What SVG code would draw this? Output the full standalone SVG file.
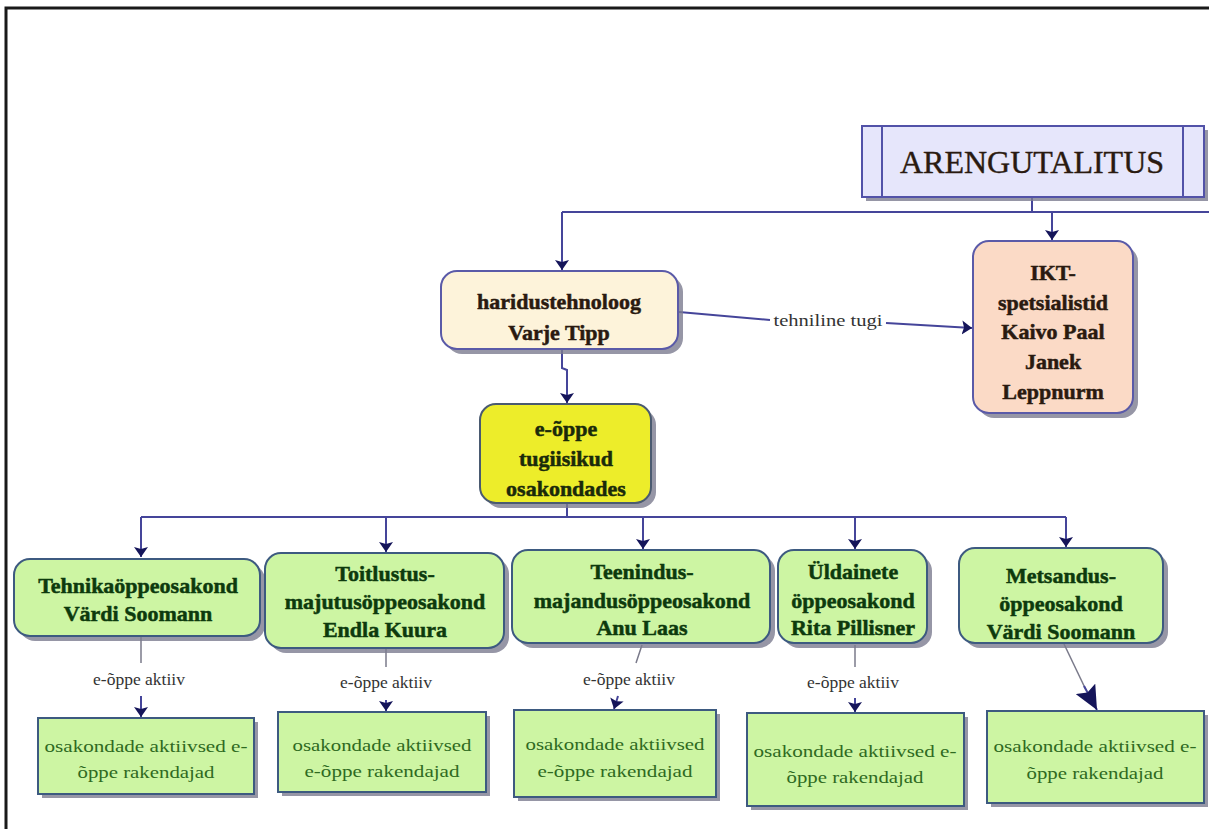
<svg xmlns="http://www.w3.org/2000/svg" width="1209" height="829" viewBox="0 0 1209 829" font-family="Liberation Serif, Times New Roman, DejaVu Serif, serif">
<defs>
<marker id="arr" viewBox="0 0 10 16" refX="10" refY="8" markerWidth="10" markerHeight="16" markerUnits="userSpaceOnUse" orient="auto">
<path d="M0,1 L10,8 L0,15 L2,8 Z" fill="#15155a"/>
</marker>
<marker id="arrBig" viewBox="0 0 24 22" refX="24" refY="11" markerWidth="24" markerHeight="22" markerUnits="userSpaceOnUse" orient="auto">
<path d="M0,0 L24,11 L0,22 L4,11 Z" fill="#15155a"/>
</marker>
</defs>
<style>
text{font-family:"Liberation Serif","Times New Roman","DejaVu Serif",serif}
.t{text-anchor:middle}
.b{font-weight:bold;font-size:22px;stroke-width:0.5}
.dk{fill:#2a1a10;stroke:#2a1a10}
.gr{fill:#0d3a0d;stroke:#0d3a0d}
.lt{font-size:17px;fill:#2f6a1f}
.lab{font-size:17.5px;fill:#333}
.sh{fill:#7c7c90;opacity:0.8}
.conn{stroke:#45459a;stroke-width:2;fill:none}
.gconn{stroke:#7a7a8a;stroke-width:1.5;fill:none}
.green{fill:#cdf5a3;stroke:#3d5a80;stroke-width:2}
</style>
<rect width="1209" height="829" fill="#ffffff"/>
<path d="M6,829 L6,8 L1209,8" fill="none" stroke="#1a1a1a" stroke-width="3"/>

<g id="connectors">
<path class="conn" d="M1032,197 L1032,212"/>
<path class="conn" d="M562,212 L1209,212"/>
<path class="conn" d="M562,212 L562,270" marker-end="url(#arr)"/>
<path class="conn" d="M1052,212 L1052,240" marker-end="url(#arr)"/>
<path class="conn" d="M679,312 L770,320"/>
<path class="conn" d="M886,323 L972,328" marker-end="url(#arr)"/>
<text class="t lab" x="828" y="326" font-size="17" textLength="109" lengthAdjust="spacingAndGlyphs">tehniline tugi</text>
<path class="conn" d="M562,349 L562,368 L567,370 L567,403" marker-end="url(#arr)"/>
<path class="conn" d="M567,503 L567,517"/>
<path class="conn" d="M141,517 L1066,517"/>
<path class="conn" d="M141,517 L141,557" marker-end="url(#arr)"/>
<path class="conn" d="M386,517 L386,552" marker-end="url(#arr)"/>
<path class="conn" d="M643,517 L643,549" marker-end="url(#arr)"/>
<path class="conn" d="M855,517 L855,549" marker-end="url(#arr)"/>
<path class="conn" d="M1066,517 L1066,547" marker-end="url(#arr)"/>
<path class="gconn" d="M141,637 L141,663"/>
<text class="t lab" x="139" y="685">e-õppe aktiiv</text>
<path class="conn" d="M141,696 L141,717" marker-end="url(#arr)"/>
<path class="gconn" d="M386,649 L386,667"/>
<text class="t lab" x="386" y="688">e-õppe aktiiv</text>
<path class="conn" d="M386,700 L386,711" marker-end="url(#arr)"/>
<path class="gconn" d="M642,645 L636,663"/>
<text class="t lab" x="629" y="685">e-õppe aktiiv</text>
<path class="conn" d="M618,696 L614,709" marker-end="url(#arr)"/>
<path class="gconn" d="M855,645 L855,667"/>
<text class="t lab" x="853" y="688">e-õppe aktiiv</text>
<path class="conn" d="M855,698 L855,712" marker-end="url(#arr)"/>
<path class="gconn" d="M1064,644 L1086,690"/>
<path class="conn" d="M1084,686 L1097,710" marker-end="url(#arrBig)"/>
</g>

<g id="arengutalitus">
<rect class="sh" x="866" y="130" width="342" height="71"/>
<rect x="862" y="126" width="342" height="71" fill="#e6e6fb" stroke="#5252a8" stroke-width="2"/>
<line x1="882" y1="126" x2="882" y2="197" stroke="#5252a8" stroke-width="2"/>
<line x1="1183" y1="126" x2="1183" y2="197" stroke="#5252a8" stroke-width="2"/>
<text class="t dk" x="1032" y="173" font-size="32" stroke-width="0.4">ARENGUTALITUS</text>
</g>

<g id="haridustehnoloog">
<rect class="sh" x="446" y="276" width="237" height="78" rx="16"/>
<rect x="441" y="271" width="237" height="78" rx="16" fill="#fdf3da" stroke="#5a5aa8" stroke-width="2"/>
<text class="t b dk" x="559" y="309" font-size="24">haridustehnoloog</text>
<text class="t b dk" x="559" y="340" font-size="24">Varje Tipp</text>
</g>

<g id="ikt">
<rect class="sh" x="978" y="246" width="160" height="172" rx="16"/>
<rect x="973" y="241" width="160" height="172" rx="16" fill="#fbdac6" stroke="#5a5aa8" stroke-width="2"/>
<text class="t b dk" x="1053" y="280" font-size="24">IKT-</text>
<text class="t b dk" x="1053" y="310" font-size="24">spetsialistid</text>
<text class="t b dk" x="1053" y="339" font-size="24">Kaivo Paal</text>
<text class="t b dk" x="1053" y="369" font-size="24">Janek</text>
<text class="t b dk" x="1053" y="399" font-size="24">Leppnurm</text>
</g>

<g id="eoppe">
<rect class="sh" x="485" y="409" width="171" height="99" rx="16"/>
<rect x="480" y="404" width="171" height="99" rx="16" fill="#eded2a" stroke="#4a5a70" stroke-width="2"/>
<text class="t b" x="566" y="436" fill="#1a2a0a" stroke="#1a2a0a" font-size="25">e-õppe</text>
<text class="t b" x="566" y="466" fill="#1a2a0a" stroke="#1a2a0a" font-size="25">tugiisikud</text>
<text class="t b" x="566" y="496" fill="#1a2a0a" stroke="#1a2a0a" font-size="25">osakondades</text>
</g>

<g id="tehnika">
<rect class="sh" x="19" y="564" width="246" height="77" rx="16"/>
<rect class="green" x="14" y="559" width="246" height="77" rx="16"/>
<text class="t b gr" x="138" y="593">Tehnikaöppeosakond</text>
<text class="t b gr" x="138" y="621">Värdi Soomann</text>
</g>

<g id="toitlustus">
<rect class="sh" x="270" y="558" width="239" height="95" rx="16"/>
<rect class="green" x="265" y="553" width="239" height="95" rx="16"/>
<text class="t b gr" x="385" y="581">Toitlustus-</text>
<text class="t b gr" x="385" y="609">majutusöppeosakond</text>
<text class="t b gr" x="385" y="637">Endla Kuura</text>
</g>

<g id="teenindus">
<rect class="sh" x="517" y="555" width="258" height="93" rx="16"/>
<rect class="green" x="512" y="550" width="258" height="93" rx="16"/>
<text class="t b gr" x="642" y="579">Teenindus-</text>
<text class="t b gr" x="642" y="608">majandusöppeosakond</text>
<text class="t b gr" x="642" y="635">Anu Laas</text>
</g>

<g id="uldainete">
<rect class="sh" x="783" y="555" width="149" height="93" rx="16"/>
<rect class="green" x="778" y="550" width="149" height="93" rx="16"/>
<text class="t b gr" x="853" y="579">Üldainete</text>
<text class="t b gr" x="853" y="608">öppeosakond</text>
<text class="t b gr" x="853" y="635">Rita Pillisner</text>
</g>

<g id="metsandus">
<rect class="sh" x="964" y="553" width="204" height="95" rx="16"/>
<rect class="green" x="959" y="548" width="204" height="95" rx="16"/>
<text class="t b gr" x="1061" y="583">Metsandus-</text>
<text class="t b gr" x="1061" y="611">öppeosakond</text>
<text class="t b gr" x="1061" y="639">Värdi Soomann</text>
</g>

<g id="rak1">
<rect class="sh" x="42" y="722" width="216" height="76"/>
<rect class="green" x="38" y="718" width="216" height="76"/>
<text class="t lt" x="146" y="752" textLength="203" lengthAdjust="spacingAndGlyphs">osakondade aktiivsed e-</text>
<text class="t lt" x="146" y="778" textLength="137" lengthAdjust="spacingAndGlyphs">õppe rakendajad</text>
</g>

<g id="rak2">
<rect class="sh" x="282" y="716" width="208" height="80"/>
<rect class="green" x="278" y="712" width="208" height="80"/>
<text class="t lt" x="382" y="751" textLength="179" lengthAdjust="spacingAndGlyphs">osakondade aktiivsed</text>
<text class="t lt" x="382" y="777" textLength="155" lengthAdjust="spacingAndGlyphs">e-õppe rakendajad</text>
</g>

<g id="rak3">
<rect class="sh" x="518" y="714" width="202" height="87"/>
<rect class="green" x="514" y="710" width="202" height="87"/>
<text class="t lt" x="615" y="750" textLength="179" lengthAdjust="spacingAndGlyphs">osakondade aktiivsed</text>
<text class="t lt" x="615" y="777" textLength="155" lengthAdjust="spacingAndGlyphs">e-õppe rakendajad</text>
</g>

<g id="rak4">
<rect class="sh" x="751" y="717" width="217" height="93"/>
<rect class="green" x="747" y="713" width="217" height="93"/>
<text class="t lt" x="855" y="757" textLength="203" lengthAdjust="spacingAndGlyphs">osakondade aktiivsed e-</text>
<text class="t lt" x="855" y="783" textLength="137" lengthAdjust="spacingAndGlyphs">õppe rakendajad</text>
</g>

<g id="rak5">
<rect class="sh" x="991" y="715" width="217" height="92"/>
<rect class="green" x="987" y="711" width="217" height="92"/>
<text class="t lt" x="1095" y="752" textLength="203" lengthAdjust="spacingAndGlyphs">osakondade aktiivsed e-</text>
<text class="t lt" x="1095" y="779" textLength="137" lengthAdjust="spacingAndGlyphs">õppe rakendajad</text>
</g>
</svg>
